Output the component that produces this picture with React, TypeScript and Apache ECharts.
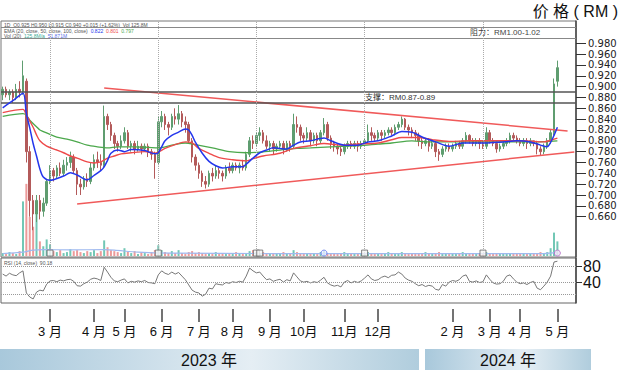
import React, { useEffect, useRef } from 'react';
import * as echarts from 'echarts';

const SLOT_COUNT = 170;
const categories = Array.from({ length: SLOT_COUNT }, (_, i) => String(i));

// [open, close, low, high]
const ohlc: number[][] = [
  [0.885,0.895,0.875,0.90],[0.895,0.885,0.88,0.90],[0.885,0.89,0.875,0.895],[0.89,0.88,0.87,0.895],
  [0.88,0.895,0.875,0.905],[0.895,0.89,0.88,0.91],[0.89,0.92,0.885,0.948],[0.91,0.78,0.76,0.915],
  [0.78,0.69,0.66,0.79],[0.69,0.665,0.635,0.70],[0.665,0.69,0.65,0.70],[0.69,0.67,0.655,0.70],
  [0.67,0.685,0.66,0.695],[0.685,0.725,0.68,0.73],[0.725,0.745,0.72,0.755],[0.745,0.735,0.725,0.75],
  [0.735,0.75,0.73,0.755],[0.75,0.74,0.735,0.76],[0.74,0.755,0.735,0.765],[0.755,0.76,0.745,0.77],
  [0.76,0.77,0.75,0.78],[0.77,0.745,0.74,0.775],[0.745,0.72,0.70,0.75],[0.72,0.715,0.70,0.73],
  [0.715,0.73,0.71,0.735],[0.73,0.725,0.715,0.74],[0.725,0.75,0.72,0.76],[0.75,0.765,0.745,0.775],
  [0.765,0.76,0.75,0.78],[0.76,0.755,0.745,0.775],[0.755,0.845,0.75,0.865],[0.845,0.83,0.82,0.85],
  [0.83,0.81,0.80,0.835],[0.81,0.795,0.785,0.815],[0.795,0.79,0.78,0.80],[0.79,0.80,0.785,0.81],
  [0.80,0.815,0.795,0.825],[0.815,0.79,0.785,0.82],[0.79,0.795,0.78,0.80],[0.795,0.785,0.775,0.80],
  [0.785,0.79,0.78,0.80],[0.79,0.785,0.775,0.795],[0.785,0.79,0.78,0.795],[0.79,0.78,0.77,0.795],
  [0.78,0.775,0.765,0.785],[0.775,0.76,0.73,0.78],[0.76,0.835,0.755,0.845],[0.835,0.845,0.825,0.855],
  [0.845,0.83,0.82,0.85],[0.83,0.825,0.81,0.835],[0.825,0.845,0.82,0.85],[0.845,0.84,0.83,0.86],
  [0.84,0.85,0.83,0.866],[0.85,0.835,0.825,0.855],[0.835,0.83,0.815,0.845],[0.83,0.80,0.795,0.835],
  [0.80,0.77,0.76,0.805],[0.77,0.755,0.745,0.775],[0.755,0.74,0.73,0.76],[0.74,0.725,0.715,0.745],
  [0.725,0.72,0.712,0.735],[0.72,0.74,0.715,0.745],[0.74,0.735,0.725,0.75],[0.735,0.745,0.73,0.755],
  [0.745,0.74,0.73,0.75],[0.74,0.735,0.725,0.745],[0.735,0.75,0.73,0.755],[0.75,0.745,0.74,0.76],
  [0.745,0.755,0.74,0.76],[0.755,0.75,0.745,0.76],[0.75,0.755,0.74,0.76],[0.755,0.75,0.745,0.765],
  [0.75,0.775,0.745,0.78],[0.775,0.80,0.77,0.807],[0.80,0.795,0.785,0.81],[0.795,0.81,0.79,0.815],
  [0.81,0.815,0.80,0.825],[0.815,0.80,0.795,0.82],[0.80,0.79,0.785,0.81],[0.79,0.795,0.78,0.80],
  [0.795,0.785,0.775,0.80],[0.785,0.79,0.78,0.795],[0.79,0.795,0.785,0.80],[0.795,0.785,0.775,0.80],
  [0.785,0.795,0.78,0.80],[0.795,0.79,0.78,0.80],[0.79,0.83,0.785,0.85],[0.83,0.825,0.815,0.845],
  [0.825,0.81,0.80,0.83],[0.81,0.805,0.795,0.815],[0.805,0.815,0.80,0.825],[0.815,0.80,0.79,0.82],
  [0.80,0.81,0.795,0.815],[0.81,0.80,0.79,0.815],[0.80,0.815,0.795,0.82],[0.815,0.83,0.81,0.842],
  [0.83,0.805,0.80,0.835],[0.805,0.795,0.785,0.81],[0.795,0.79,0.78,0.80],[0.79,0.785,0.775,0.795],
  [0.785,0.78,0.772,0.79],[0.78,0.79,0.775,0.795],[0.79,0.795,0.785,0.80],[0.795,0.79,0.785,0.80],
  [0.79,0.795,0.785,0.80],[0.795,0.79,0.78,0.80],[0.79,0.795,0.785,0.80],[0.795,0.80,0.79,0.805],
  [0.80,0.815,0.795,0.83],[0.815,0.81,0.80,0.825],[0.81,0.805,0.80,0.815],[0.805,0.815,0.80,0.82],
  [0.815,0.81,0.80,0.82],[0.81,0.815,0.805,0.82],[0.815,0.82,0.81,0.825],[0.82,0.815,0.81,0.825],
  [0.815,0.825,0.81,0.83],[0.825,0.83,0.82,0.835],[0.83,0.84,0.825,0.845],[0.84,0.825,0.82,0.842],
  [0.825,0.82,0.81,0.83],[0.82,0.815,0.805,0.825],[0.815,0.81,0.80,0.82],[0.81,0.80,0.79,0.815],
  [0.80,0.795,0.785,0.805],[0.795,0.80,0.79,0.805],[0.80,0.79,0.78,0.805],[0.79,0.795,0.785,0.80],
  [0.795,0.78,0.77,0.80],[0.78,0.775,0.763,0.785],[0.775,0.785,0.77,0.79],[0.785,0.79,0.78,0.795],
  [0.79,0.785,0.78,0.795],[0.785,0.79,0.78,0.795],[0.79,0.795,0.785,0.80],[0.795,0.79,0.785,0.80],
  [0.79,0.80,0.785,0.805],[0.80,0.81,0.795,0.816],[0.81,0.80,0.795,0.812],[0.80,0.795,0.79,0.805],
  [0.795,0.80,0.79,0.805],[0.80,0.795,0.785,0.805],[0.795,0.79,0.785,0.80],[0.79,0.815,0.785,0.825],
  [0.815,0.80,0.795,0.82],[0.80,0.795,0.79,0.805],[0.795,0.785,0.778,0.80],[0.785,0.79,0.78,0.795],
  [0.79,0.795,0.785,0.80],[0.795,0.80,0.79,0.805],[0.80,0.81,0.795,0.815],[0.81,0.805,0.80,0.815],
  [0.805,0.80,0.795,0.81],[0.80,0.795,0.79,0.805],[0.795,0.80,0.79,0.805],[0.80,0.795,0.785,0.805],
  [0.795,0.80,0.79,0.805],[0.80,0.795,0.79,0.80],[0.795,0.785,0.775,0.80],[0.785,0.78,0.772,0.79],
  [0.78,0.79,0.775,0.795],[0.79,0.80,0.785,0.805],[0.80,0.815,0.795,0.82],[0.815,0.905,0.81,0.915],
  [0.91,0.935,0.90,0.948],
];

// [slot, value]
const ema20: number[][] = [[0,0.861],[3,0.874],[6,0.888],[7,0.85],[8,0.824],[9,0.795],[10,0.772],[11,0.748],[12,0.733],[14,0.727],[18,0.735],[20,0.741],[22,0.737],[25,0.728],[27,0.736],[29,0.745],[30,0.752],[31,0.764],[32,0.777],[34,0.783],[36,0.780],[38,0.784],[42,0.782],[45,0.776],[46,0.778],[47,0.789],[48,0.80],[50,0.81],[52,0.816],[54,0.822],[55,0.82],[56,0.81],[57,0.797],[59,0.777],[61,0.762],[63,0.754],[65,0.750],[68,0.752],[71,0.752],[72,0.757],[74,0.768],[76,0.778],[78,0.783],[80,0.787],[84,0.785],[86,0.792],[88,0.798],[91,0.80],[95,0.805],[97,0.80],[101,0.792],[105,0.792],[108,0.798],[111,0.80],[115,0.809],[118,0.817],[121,0.816],[124,0.807],[128,0.798],[132,0.79],[136,0.796],[141,0.796],[148,0.798],[152,0.80],[156,0.798],[159,0.792],[161,0.789],[162,0.797],[163,0.81],[164,0.825]];
const ema50: number[][] = [[0,0.852],[6,0.858],[7,0.848],[9,0.825],[10,0.811],[11,0.80],[13,0.79],[16,0.783],[18,0.778],[20,0.772],[22,0.768],[25,0.761],[27,0.759],[29,0.761],[31,0.768],[33,0.772],[35,0.776],[38,0.778],[42,0.78],[45,0.777],[48,0.786],[51,0.793],[54,0.798],[56,0.796],[58,0.786],[61,0.777],[64,0.769],[68,0.765],[72,0.763],[74,0.767],[77,0.772],[82,0.777],[86,0.786],[91,0.791],[95,0.795],[100,0.792],[105,0.794],[111,0.796],[115,0.802],[118,0.806],[123,0.806],[127,0.802],[132,0.799],[138,0.80],[146,0.80],[154,0.80],[160,0.798],[162,0.801],[164,0.805]];
const ema100: number[][] = [[0,0.845],[6,0.85],[7,0.847],[8,0.838],[10,0.826],[11,0.82],[14,0.812],[16,0.807],[19,0.803],[22,0.798],[25,0.792],[28,0.789],[31,0.787],[34,0.789],[39,0.789],[43,0.788],[46,0.787],[50,0.792],[54,0.796],[57,0.793],[62,0.787],[67,0.78],[72,0.778],[76,0.779],[82,0.783],[87,0.786],[91,0.787],[97,0.789],[105,0.791],[111,0.794],[115,0.796],[121,0.80],[126,0.798],[136,0.798],[146,0.798],[156,0.798],[162,0.799],[164,0.80]];

const volume: number[] = [
  3,2,4,3,2,5,56,74,40,30,52,15,10,17,12,
  5,4,6,3,4,7,5,6,4,3,5,4,6,3,5,
  16,
  9,6,5,4,3,8,4,3,5,2,4,3,2,4,6,
  11,6,4,3,5,3,6,3,2,4,5,3,4,3,2,
  3,2,4,2,3,2,3,2,4,3,2,3,5,6,4,
  3,4,2,3,2,3,2,4,3,2,6,4,3,2,3,
  2,3,2,4,5,3,2,3,2,3,4,2,3,2,3,
  2,3,4,3,2,3,2,3,4,3,2,3,4,3,2,
  3,2,3,2,4,3,2,3,4,2,3,2,3,2,3,
  4,3,2,3,2,3,2,4,3,2,3,2,3,2,3,
  2,3,2,3,2,3,2,3,4,3,4,8,24,15,
];
const volumeMA: number[][] = [[0,2.5],[6,4],[9,6],[12,6.5],[20,6.3],[30,6.5],[33,6],[40,4],[50,3],[80,2.5],[120,2.5],[160,2.5],[164,4]];

const rsi: number[] = [
  60,55,62,58,56,63,68,13,3,-2,15,20,18,35,43,
  44,41,45,43,46,47,42,31,30,36,40,47,50,48,44,
  77,65,52,43,41,45,48,38,42,40,43,41,44,39,38,36,
  58,68,62,59,65,60,64,55,46,33,20,15,13,5,10,25,23,
  36,34,33,39,37,41,39,42,40,55,75,68,63,65,55,
  46,48,42,45,47,40,46,43,63,53,43,40,42,38,41,39,
  45,52,38,33,30,32,28,40,44,38,42,39,43,50,58,48,44,46,
  52,55,51,57,58,65,60,50,45,42,36,31,34,29,32,30,22,20,34,30,
  40,44,42,46,55,58,42,40,43,39,41,58,47,38,35,36,42,55,58,48,
  40,36,38,34,39,42,25,21,30,40,55,90,92,
];

const monthTicks: [number, string][] = [
  [14,'3 月'],[27,'4 月'],[36,'5 月'],[47,'6 月'],[58,'7 月'],[68,'8 月'],[79,'9 月'],
  [89,'10月'],[101,'11月'],[111,'12月'],[133,'2 月'],[144,'3 月'],[153,'4 月'],[164,'5 月'],
];
const eventSlots = [14, 46, 75, 107, 142];
const eventBoxes = [14, 46, 75, 76, 107, 142];
const priceTicks = [0.66,0.68,0.70,0.72,0.74,0.76,0.78,0.80,0.82,0.84,0.86,0.88,0.90,0.92,0.94,0.96,0.98];
const rsiTicks = [40, 80];
const rsiLevels = [80, 40, 10];
const supportBand = [0.87, 0.89];
const headerBand = [0.9892, 1.0106];
const upperTrend = [[30, 0.8975], [167, 0.8182]];
const lowerTrend = [[22, 0.6834], [169, 0.7795]];

const FONT = '"Liberation Sans", "Noto Sans CJK SC", sans-serif';
const UP = '#5f9d70';
const DOWN = '#b35a5a';

const monthMap: Record<number, string> = {};
monthTicks.forEach(([i, l]) => { monthMap[i] = l; });

const hiddenX = (gridIndex: number) => ({
  type: 'category', gridIndex, data: categories, boundaryGap: true,
  axisLine: { show: false }, axisTick: { show: false }, axisLabel: { show: false }, splitLine: { show: false },
});

const barGradient = () => new echarts.graphic.LinearGradient(0, 0, 1, 0, [
  { offset: 0, color: '#a8c8db' }, { offset: 0.6, color: '#e5eef4' }, { offset: 1, color: '#b0cddd' },
]);

const option: any = {
  animation: false,
  backgroundColor: '#ffffff',
  grid: [
    { left: 1, right: 50, top: 21, height: 236, show: true, borderColor: '#777', borderWidth: 1 },
    { left: 1, right: 50, top: 178, height: 78 },
    { left: 1, right: 50, top: 258, height: 45, show: true, borderColor: '#666', borderWidth: 1 },
    { left: 1, right: 50, top: 300, height: 9 },
  ],
  xAxis: [
    hiddenX(0), hiddenX(1), hiddenX(2),
    {
      type: 'category', gridIndex: 3, data: categories, boundaryGap: true, position: 'bottom',
      axisLine: { show: false },
      axisTick: { show: true, alignWithLabel: true, length: 13, interval: (i: number) => monthMap[i] !== undefined, lineStyle: { color: '#444', width: 1.5 } },
      axisLabel: { show: true, interval: (i: number) => monthMap[i] !== undefined, formatter: (_v: string, i: number) => monthMap[i] ?? '', margin: 16, fontSize: 13, color: '#111', fontFamily: FONT },
    },
  ],
  yAxis: [
    {
      type: 'value', gridIndex: 0, position: 'right', min: 0.5856, max: 1.0211,
      axisLine: { show: true, lineStyle: { color: '#444', width: 1.5 } },
      axisTick: { show: true, customValues: priceTicks, length: 10, lineStyle: { color: '#333', width: 1 } },
      axisLabel: {
        show: true, customValues: priceTicks, formatter: (v: number) => v.toFixed(3), margin: 12,
        fontSize: 10, lineHeight: 10, color: '#222', fontFamily: '"DejaVu Sans", sans-serif',
        showMinLabel: true, showMaxLabel: true,
      },
      splitLine: { show: false },
    },
    { type: 'value', gridIndex: 1, min: 0, max: 80, show: false, splitLine: { show: false } },
    {
      type: 'value', gridIndex: 2, position: 'right', min: -12, max: 100,
      axisLine: { show: true, lineStyle: { color: '#444', width: 1.5 } },
      axisTick: { show: true, customValues: rsiTicks, length: 6, lineStyle: { color: '#333' } },
      axisLabel: { show: true, customValues: rsiTicks, margin: 7, fontSize: 16, lineHeight: 15, color: '#111', fontFamily: FONT, showMinLabel: true, showMaxLabel: true },
      splitLine: { show: false },
    },
    { type: 'value', gridIndex: 3, show: false },
  ],
  series: [
    {
      type: 'candlestick', xAxisIndex: 0, yAxisIndex: 0, data: ohlc, barWidth: 2,
      itemStyle: { color: UP, color0: DOWN, borderColor: UP, borderColor0: DOWN, borderWidth: 1 },
      markLine: {
        silent: true, symbol: 'none', label: { show: false }, animation: false,
        lineStyle: { color: '#f05a5a', width: 1.5, type: 'solid' },
        data: [
          [{ coord: upperTrend[0] }, { coord: upperTrend[1] }],
          [{ coord: lowerTrend[0] }, { coord: lowerTrend[1] }],
        ],
      },
    },
    {
      type: 'line', xAxisIndex: 0, yAxisIndex: 0, data: ema100, smooth: 0.3, showSymbol: false,
      lineStyle: { color: '#4ca84c', width: 1.3 }, z: 3,
      markLine: {
        silent: true, symbol: 'none', label: { show: false }, animation: false,
        data: [
          ...supportBand.map((v) => ({ yAxis: v, lineStyle: { color: '#555', width: 1.5, type: 'solid' } })),
          ...headerBand.map((v) => ({ yAxis: v, lineStyle: { color: '#888', width: 1.2, type: 'solid' } })),
        ],
      },
    },
    {
      type: 'line', xAxisIndex: 0, yAxisIndex: 0, data: ema50, smooth: 0.3, showSymbol: false,
      lineStyle: { color: '#ee4a4a', width: 1.4 }, z: 4,
      markLine: {
        silent: true, symbol: 'none', label: { show: false }, animation: false,
        lineStyle: { color: '#aaa', width: 1, type: 'dotted' },
        data: eventSlots.map((s) => ({ xAxis: s })),
      },
    },
    {
      type: 'line', xAxisIndex: 0, yAxisIndex: 0, data: ema20, smooth: 0.3, showSymbol: false,
      lineStyle: { color: '#2436ec', width: 1.5 }, z: 5,
    },
    {
      type: 'bar', xAxisIndex: 1, yAxisIndex: 1, barWidth: 2,
      data: volume.map((v, i) => ({ value: v, itemStyle: { color: ohlc[i][1] >= ohlc[i][0] ? '#72c7b5' : '#ec9a9a' } })),
    },
    {
      type: 'line', xAxisIndex: 1, yAxisIndex: 1, data: volumeMA, smooth: 0.3, showSymbol: false,
      lineStyle: { color: '#9fb9ef', width: 1.2 },
    },
    {
      type: 'scatter', xAxisIndex: 1, yAxisIndex: 1, symbol: 'rect', symbolSize: 6,
      data: eventBoxes.map((s) => [s, 3]),
      itemStyle: { color: '#f4f4f4', borderColor: '#666', borderWidth: 1 }, z: 6,
    },
    {
      type: 'scatter', xAxisIndex: 1, yAxisIndex: 1, symbol: 'circle', symbolSize: 6,
      data: [
        { value: [95, 3], itemStyle: { color: '#e8eeff', borderColor: '#5b74e8' } },
        { value: [164, 3], itemStyle: { color: '#f3e6f6', borderColor: '#b069c6' } },
      ],
      itemStyle: { borderWidth: 1 }, z: 6,
    },
    {
      type: 'line', xAxisIndex: 2, yAxisIndex: 2, data: rsi, showSymbol: false,
      lineStyle: { color: '#777', width: 1 },
      markLine: {
        silent: true, symbol: 'none', label: { show: false }, animation: false,
        lineStyle: { color: '#999', width: 1, type: 'dotted' },
        data: rsiLevels.map((v) => ({ yAxis: v })),
      },
    },
  ],
  graphic: [
    { type: 'text', right: 8, top: 3, style: { text: '价 格 ( RM )', fontSize: 16, fill: '#111', fontFamily: FONT } },
    { type: 'text', left: 4, top: 22, style: { text: '1D  O0.925 H0.950 L0.915 C0.940 +0.015 (+1.62%)  Vol 125.8M', fontSize: 5, fill: '#555', fontFamily: FONT } },
    {
      type: 'text', left: 4, top: 28.5,
      style: {
        text: 'EMA (20, close, 50, close, 100, close)  {b|0.822}  {r|0.801}  {g|0.797}', fontSize: 5, fill: '#555', fontFamily: FONT,
        rich: { b: { fill: '#2436ec', fontSize: 5 }, r: { fill: '#ee4a4a', fontSize: 5 }, g: { fill: '#4ca84c', fontSize: 5 } },
      },
    },
    {
      type: 'text', left: 4, top: 33.5,
      style: {
        text: 'Vol (20)  {t|125.8M/a}  {b|51.871M}', fontSize: 5, fill: '#555', fontFamily: FONT,
        rich: { t: { fill: '#3aa896', fontSize: 5 }, b: { fill: '#5b74e8', fontSize: 5 } },
      },
    },
    { type: 'text', left: 470, top: 28, style: { text: '阻力：RM1.00-1.02', fontSize: 8, fill: '#444', fontFamily: FONT } },
    { type: 'text', left: 365, top: 93, style: { text: '支撑：RM0.87-0.89', fontSize: 8, fill: '#333', fontFamily: FONT } },
    { type: 'text', left: 4, top: 260, style: { text: 'RSI (14, close)  90.18', fontSize: 5, fill: '#555', fontFamily: FONT } },
    { type: 'rect', shape: { x: 0, y: 349, width: 419, height: 21 }, style: { fill: barGradient() } },
    { type: 'rect', shape: { x: 425, y: 349, width: 166, height: 21 }, style: { fill: barGradient() } },
    { type: 'text', x: 209, y: 360, style: { text: '2023 年', fontSize: 16, fill: '#111', fontFamily: FONT, textAlign: 'center', textVerticalAlign: 'middle' } },
    { type: 'text', x: 508, y: 360, style: { text: '2024 年', fontSize: 16, fill: '#111', fontFamily: FONT, textAlign: 'center', textVerticalAlign: 'middle' } },
  ],
};

export default function App() {
  const ref = useRef<HTMLDivElement>(null);
  useEffect(() => {
    const chart = echarts.init(ref.current as HTMLDivElement, null, { renderer: 'svg' });
    chart.setOption(option);
    return () => chart.dispose();
  }, []);
  return (
    <div
      ref={ref}
      style={{ position: 'fixed', left: 0, top: 0, width: 626, height: 370, background: '#fff' }}
    />
  );
}
